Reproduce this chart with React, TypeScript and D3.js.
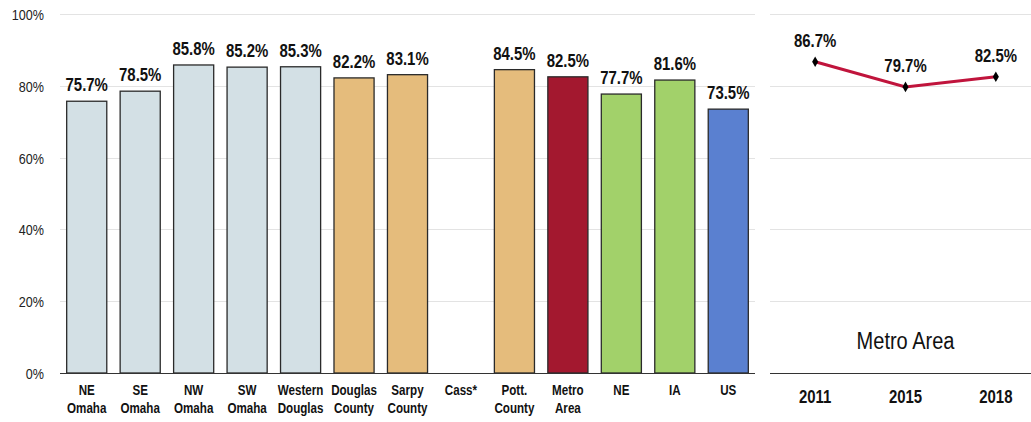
import { useEffect, useRef } from "react";
import * as d3 from "d3";

const categories = [
  ["NE", "Omaha"],
  ["SE", "Omaha"],
  ["NW", "Omaha"],
  ["SW", "Omaha"],
  ["Western", "Douglas"],
  ["Douglas", "County"],
  ["Sarpy", "County"],
  ["Cass*"],
  ["Pott.", "County"],
  ["Metro", "Area"],
  ["NE"],
  ["IA"],
  ["US"],
];
const values = [75.7, 78.5, 85.8, 85.2, 85.3, 82.2, 83.1, null, 84.5, 82.5, 77.7, 81.6, 73.5];
const barColors = [
  "#d3e0e5", "#d3e0e5", "#d3e0e5", "#d3e0e5", "#d3e0e5",
  "#e5bc7c", "#e5bc7c", "#e5bc7c", "#e5bc7c",
  "#a3182f", "#a2d16a", "#a2d16a", "#5a80d0",
];
const years = ["2011", "2015", "2018"];
const metroTrend = [86.7, 79.7, 82.5];
const yTicks = [0, 20, 40, 60, 80, 100];

// no narrow font installed, so squeeze Liberation Sans horizontally
const FONT = "'Liberation Sans', Arial, sans-serif";
const SX = 0.83;

export default function App() {
  const ref = useRef<SVGSVGElement>(null);

  const width = 1031;
  const height = 422;
  const marginTop = 14;
  const marginBottom = 49;
  const leftStart = 60;
  const leftEnd = 755;
  const rightStart = 770;
  const rightEnd = 1041;

  useEffect(() => {
    if (!ref.current) return;
    const svg = d3.select(ref.current);
    svg.selectAll("*").remove();

    const y = d3
      .scaleLinear()
      .domain([0, 100])
      .range([height - marginBottom, marginTop]);

    const x = d3
      .scaleBand()
      .domain(categories.map((_, i) => String(i)))
      .range([leftStart, leftEnd])
      .paddingInner(0.25)
      .paddingOuter(0.125);

    const x2 = d3.scalePoint().domain(years).range([rightStart, rightEnd]).padding(0.5);

    const place = (px: number, py: number, s = SX) => `translate(${px},${py}) scale(${s},1)`;

    // gridlines
    const grid = svg.append("g").attr("stroke", "#e3e3e3").attr("stroke-width", 1);
    yTicks
      .filter((t) => t > 0)
      .forEach((t) => {
        const gy = Math.round(y(t)) + 0.5;
        grid.append("line").attr("x1", leftStart).attr("x2", leftEnd).attr("y1", gy).attr("y2", gy);
        grid.append("line").attr("x1", rightStart).attr("x2", width).attr("y1", gy).attr("y2", gy);
      });

    // y axis labels
    svg
      .append("g")
      .selectAll("text")
      .data(yTicks)
      .join("text")
      .attr("transform", (d) => place(44, y(d) + 6, 0.84))
      .attr("text-anchor", "end")
      .attr("font-family", FONT)
      .attr("font-size", 15)
      .attr("fill", "#222")
      .text((d) => `${d}%`);

    // bars
    const bars = categories
      .map((c, i) => ({ i, v: values[i], color: barColors[i] }))
      .filter((d) => d.v != null);

    svg
      .append("g")
      .selectAll("rect")
      .data(bars)
      .join("rect")
      .attr("x", (d) => x(String(d.i))!)
      .attr("y", (d) => y(d.v as number))
      .attr("width", x.bandwidth())
      .attr("height", (d) => y(0) - y(d.v as number))
      .attr("fill", (d) => d.color)
      .attr("stroke", "#2a2a2a")
      .attr("stroke-width", 1.3);

    svg
      .append("g")
      .selectAll("text")
      .data(bars)
      .join("text")
      .attr("transform", (d) => place(x(String(d.i))! + x.bandwidth() / 2, y(d.v as number) - 10))
      .attr("text-anchor", "middle")
      .attr("font-family", FONT)
      .attr("font-weight", "bold")
      .attr("font-size", 18)
      .attr("fill", "#111")
      .text((d) => `${(d.v as number).toFixed(1)}%`);

    // baseline axes
    [
      [leftStart, leftEnd],
      [rightStart, width],
    ].forEach(([a, b]) => {
      svg
        .append("line")
        .attr("x1", a)
        .attr("x2", b)
        .attr("y1", y(0) + 0.5)
        .attr("y2", y(0) + 0.5)
        .attr("stroke", "#333")
        .attr("stroke-width", 1.2);
    });

    // category labels
    const cat = svg
      .append("g")
      .attr("font-family", FONT)
      .attr("font-weight", "bold")
      .attr("font-size", 14)
      .attr("fill", "#111")
      .attr("text-anchor", "middle");
    categories.forEach((lines, i) => {
      const t = cat
        .append("text")
        .attr("transform", place(x(String(i))! + x.bandwidth() / 2, y(0) + 22));
      lines.forEach((l, j) => {
        t.append("tspan")
          .attr("x", 0)
          .attr("dy", j === 0 ? 0 : 18)
          .text(l);
      });
    });

    // right panel: trend line
    const line = d3
      .line<number>()
      .x((_, i) => x2(years[i])!)
      .y((d) => y(d));

    svg
      .append("path")
      .attr("d", line(metroTrend))
      .attr("fill", "none")
      .attr("stroke", "#c0143c")
      .attr("stroke-width", 3);

    svg
      .append("g")
      .selectAll("path")
      .data(metroTrend)
      .join("path")
      .attr("d", d3.symbol(d3.symbolDiamond, 32)())
      .attr("transform", (d, i) => `translate(${x2(years[i])},${y(d)})`)
      .attr("fill", "#000");

    svg
      .append("g")
      .selectAll("text")
      .data(metroTrend)
      .join("text")
      .attr("transform", (d, i) => place(x2(years[i])!, y(d) - 15))
      .attr("text-anchor", "middle")
      .attr("font-family", FONT)
      .attr("font-weight", "bold")
      .attr("font-size", 18)
      .attr("fill", "#111")
      .text((d) => `${d.toFixed(1)}%`);

    svg
      .append("g")
      .selectAll("text")
      .data(years)
      .join("text")
      .attr("transform", (d) => place(x2(d)!, y(0) + 30))
      .attr("text-anchor", "middle")
      .attr("font-family", FONT)
      .attr("font-weight", "bold")
      .attr("font-size", 18)
      .attr("fill", "#111")
      .text((d) => d);

    svg
      .append("text")
      .attr("transform", place((x2(years[0])! + x2(years[2])!) / 2, 349, 0.87))
      .attr("text-anchor", "middle")
      .attr("font-family", FONT)
      .attr("font-size", 23)
      .attr("fill", "#111")
      .text("Metro Area");
  }, []);

  return (
    <div style={{ position: "absolute", left: 0, top: 0, background: "#fff" }}>
      <svg ref={ref} width={width} height={height} style={{ display: "block" }} />
    </div>
  );
}
